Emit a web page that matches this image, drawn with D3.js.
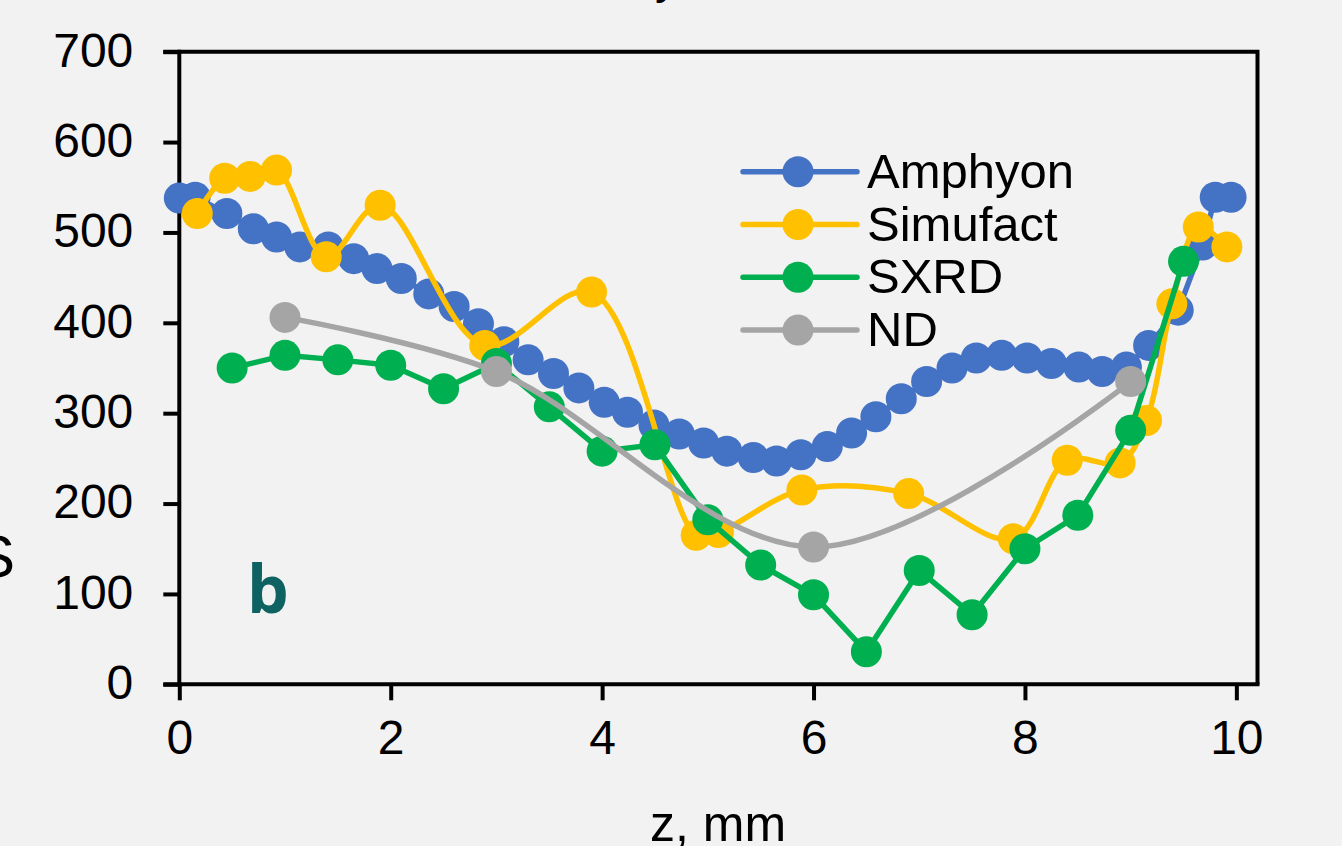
<!DOCTYPE html>
<html>
<head>
<meta charset="utf-8">
<script src="https://cdn.jsdelivr.net/npm/d3@7"></script>
<style>
	body{margin:0;background:#f2f2f2;}
	svg{display:block;font-family:"Liberation Sans",Arial,sans-serif;}
</style>
</head>
<body>
<svg id="chart" width="1342" height="846"></svg>
<script>
//values, z in mm
var amphyonZ=[0,0.15,0.45,0.70,0.92,1.14,1.41,1.65,1.87,2.10,2.36,2.60,2.83,3.07,3.30,3.54,3.78,4.02,4.24,4.49,4.73,4.96,5.18,5.43,5.65,5.88,6.13,6.36,6.59,6.83,7.07,7.31,7.54,7.78,8.02,8.25,8.51,8.73,8.96,9.17,9.45,9.68,9.80,9.95];
var amphyonVal=[538,539,521,504,495,484,484,471,460,449,432,418,399,379,359,344,328,312,301,287,277,267,258,251,247,254,263,278,296,316,335,350,361,364,361,355,351,346,351,375,414,486,539,539];

var simufactZ=[0.17,0.43,0.67,0.92,1.39,1.90,2.89,3.90,4.89,5.10,5.89,6.90,7.89,8.40,8.90,9.15,9.39,9.64,9.91];
var simufactVal=[521,560,562,569,473,530,375,434,165,168,215,211,161,248,245,292,421,506,484];

var sxrdZ=[0.5,1.0,1.5,2.0,2.5,3.0,3.5,4.0,4.5,5.0,5.5,6.0,6.5,7.0,7.5,8.0,8.5,9.0,9.5];
var sxrdVal=[350,364,359,353,327,355,307,258,265,182,132,99,36,126,77,150,187,281,468];

var ndZ=[1,3,6,9];
var ndVal=[406,346,152,335];

var seriesNames=["Amphyon","Simufact","SXRD","ND"];
var seriesColors=["#4472c4","#ffc000","#00b050","#a5a5a5"];
var xTicks=[0,2,4,6,8,10];
var yTicks=[0,100,200,300,400,500,600,700];

var svg=d3.select("#chart");
var plotLeft=179.3, plotRight=1257.5, plotTop=51.7, plotBottom=684.3;

var x=d3.scaleLinear().domain([0,10.2]).range([plotLeft,plotRight]);
var y=d3.scaleLinear().domain([0,700]).range([plotBottom,plotTop]);

//cut-off texts of the neighbouring panels
svg.append("text").attr("x",655).attr("y",-7).attr("font-size",48).text("y,");
svg.append("text").attr("x",15).attr("y",577).attr("font-size",60).attr("text-anchor","end").text("S");

//box: right and top border
svg.append("path")
	.attr("d","M"+(plotLeft-16)+","+plotTop+"H"+plotRight+"V"+plotBottom)
	.attr("fill","none").attr("stroke","#000").attr("stroke-width",4);

//y axis
var yAxis=svg.append("g").attr("transform","translate("+plotLeft+",0)")
	.call(d3.axisLeft(y).tickValues(yTicks).tickSize(16).tickPadding(30).tickSizeOuter(0));
yAxis.select(".domain").attr("stroke-width",4).attr("d","M0,"+(plotBottom+2)+"V"+(plotTop-2));
yAxis.selectAll(".tick line").attr("stroke-width",4);
yAxis.selectAll(".tick text").attr("font-size",48).attr("fill","#000").attr("dy","0.3em").attr("font-family","Liberation Sans");

//x axis
var xAxis=svg.append("g").attr("transform","translate(0,"+plotBottom+")")
	.call(d3.axisBottom(x).tickValues(xTicks).tickSize(16).tickPadding(20).tickSizeOuter(0));
xAxis.select(".domain").attr("stroke-width",4).attr("d","M"+(plotLeft-16)+",0H"+(plotRight+2));
xAxis.selectAll(".tick line").attr("stroke-width",4);
xAxis.selectAll(".tick text").attr("font-size",48).attr("fill","#000").attr("dy","0.71em").attr("font-family","Liberation Sans");

svg.append("text").attr("x",718).attr("y",841).attr("font-size",50)
	.attr("text-anchor","middle").text("z, mm");

svg.append("text").attr("x",247).attr("y",613)
	.attr("font-family","'Open Sans',sans-serif").attr("font-weight","bold")
	.attr("font-size",66).attr("fill","#0e6262").text("b");

//series, drawn in excel order (smoothed ones get catmull-rom)
var smooth=d3.curveCatmullRom.alpha(0.5);
var series=[
	{name:seriesNames[0],z:amphyonZ,v:amphyonVal,curve:d3.curveLinear},
	{name:seriesNames[1],z:simufactZ,v:simufactVal,curve:smooth},
	{name:seriesNames[2],z:sxrdZ,v:sxrdVal,curve:d3.curveLinear},
	{name:seriesNames[3],z:ndZ,v:ndVal,curve:smooth}
];

series.forEach(function(s,i){
	var pts=s.z.map(function(z,j){ return [z,s.v[j]]; });
	var line=d3.line().x(function(d){ return x(d[0]); }).y(function(d){ return y(d[1]); }).curve(s.curve);
	var g=svg.append("g").attr("class","series");
	g.append("path").attr("d",line(pts))
		.attr("fill","none").attr("stroke",seriesColors[i]).attr("stroke-width",5.5)
		.attr("stroke-linejoin","round").attr("stroke-linecap","round");
	g.selectAll("circle").data(pts).enter().append("circle")
		.attr("cx",function(d){ return x(d[0]); })
		.attr("cy",function(d){ return y(d[1]); })
		.attr("r",15.5).attr("fill",seriesColors[i]);
});

//legend
var legend=svg.append("g").attr("transform","translate(743,171.7)");
seriesNames.forEach(function(n,i){
	var row=legend.append("g").attr("transform","translate(0,"+(i*52.8)+")");
	row.append("line").attr("x1",0).attr("x2",114).attr("y1",0).attr("y2",0)
		.attr("stroke",seriesColors[i]).attr("stroke-width",5.5).attr("stroke-linecap","round");
	row.append("circle").attr("cx",55).attr("cy",0).attr("r",15.5).attr("fill",seriesColors[i]);
	row.append("text").attr("x",124).attr("y",16).attr("font-size",49).text(n);
});
</script>
</body>
</html>
